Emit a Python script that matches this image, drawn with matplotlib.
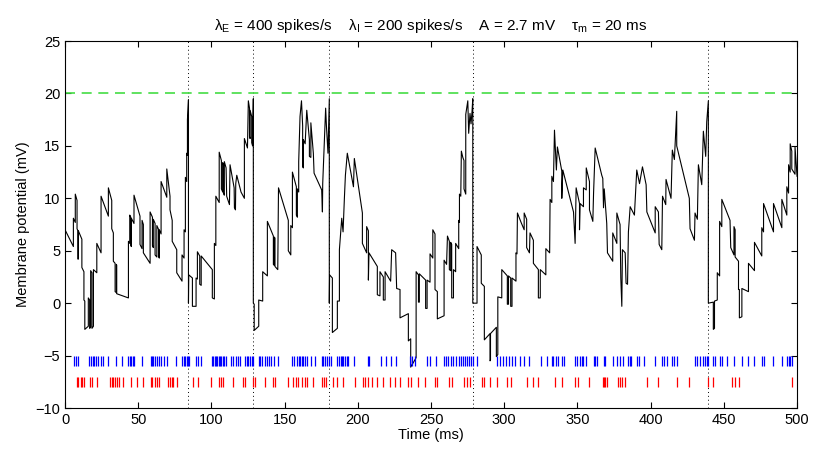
import matplotlib
matplotlib.use("Agg")
import matplotlib.pyplot as plt

plt.rcParams['font.family'] = ['Liberation Sans', 'DejaVu Sans']
plt.rcParams['mathtext.fontset'] = 'custom'
plt.rcParams['mathtext.rm'] = 'Liberation Sans'
plt.rcParams['mathtext.it'] = 'Liberation Sans'

# ---------------- DATA ----------------

# membrane potential trace vertices (ms, mV)
trace_t = [
    0.0, 5.7, 5.7, 7.0, 7.0, 8.2, 8.2, 8.8, 8.8, 9.1, 9.1, 11.5, 11.5, 12.9, 12.9, 13.5, 13.5,
    15.9, 15.9, 16.8, 16.8, 17.5, 17.5, 18.4, 18.4, 19.4, 19.4, 21.7, 21.7, 24.6, 24.6, 29.6,
    29.6, 31.9, 31.9, 33.0, 33.0, 34.2, 34.2, 35.1, 35.1, 35.3, 35.3, 43.3, 43.3, 44.2, 44.2,
    44.9, 44.9, 45.3, 45.3, 47.1, 47.1, 51.2, 51.2, 52.6, 52.6, 53.5, 53.5, 58.1, 58.1, 59.7,
    59.7, 60.3, 60.3, 61.5, 61.5, 62.7, 62.7, 64.0, 64.0, 64.4, 64.4, 65.6, 65.6, 69.5, 69.5,
    71.7, 71.7, 73.2, 73.2, 75.1, 76.3, 76.3, 79.9, 79.9, 81.3, 81.3, 82.2, 82.2, 83.1, 83.1,
    83.6, 83.6, 84.3, 84.3,
    84.5, 87.0, 87.0, 89.5, 89.5, 90.4, 90.4, 92.0, 92.0, 93.0, 93.0, 100.6, 100.6, 102.0,
    102.0, 103.0, 103.0, 105.3, 105.3, 106.8, 106.8, 107.7, 107.7, 108.2, 108.2, 108.8, 108.8,
    110.0, 110.4, 112.3, 112.7, 115.5, 115.7, 116.4, 116.6, 117.3, 120.2, 122.5, 122.5, 124.6,
    125.2, 126.0, 126.0, 126.4, 126.4, 127.5, 127.5, 128.1, 128.6, 128.6,
    129.2, 129.2, 132.3, 132.3, 135.0, 135.0, 138.2, 138.2, 142.3, 142.3, 143.0, 143.0, 143.4,
    143.4, 145.3, 145.8, 152.5, 152.5, 154.2, 154.2, 155.3, 155.3, 158.0, 158.0, 158.7, 158.7,
    159.6, 159.6, 160.5, 161.5, 162.3, 162.3, 162.8, 162.8, 164.0, 165.1, 166.9, 166.9, 167.9,
    167.9, 169.6, 170.1, 175.3, 175.8, 176.0, 178.0, 178.5, 179.6, 180.5, 180.5,
    180.7, 182.6, 182.6, 186.0, 186.0, 187.4, 187.4, 189.0, 189.9, 190.8, 191.5, 192.8, 197.0,
    197.6, 203.1, 203.1, 206.0, 206.0, 207.2, 207.2, 207.6, 213.3, 213.3, 215.1, 215.1, 217.4,
    217.4, 218.6, 218.6, 222.4, 223.1, 225.8, 226.5, 228.8, 228.8, 234.5, 234.5, 236.1, 236.1,
    239.8, 239.8, 241.4, 241.4, 242.0, 242.0, 246.3, 246.3, 247.3, 247.3, 249.3, 249.3, 251.2,
    251.2, 252.7, 252.7, 254.3, 254.3, 258.9, 258.9, 260.6, 261.2, 262.5, 262.5, 263.4, 263.4,
    264.1, 264.1, 265.3, 265.3, 266.8, 266.8, 268.9, 268.9, 269.4, 269.4, 270.3, 270.7, 271.7,
    272.5, 272.5, 273.2, 273.7, 273.7, 275.1, 275.7, 276.6, 277.3, 278.0, 278.5, 278.5,
    281.4, 281.4, 284.3, 284.3, 286.4, 286.4, 290.3, 290.3, 290.6, 290.6, 294.6, 294.6, 295.6,
    295.6, 298.3, 298.3, 302.1, 302.1, 302.9, 302.9, 304.4, 304.4, 305.3, 305.3, 308.0, 308.0,
    308.7, 309.0, 311.5, 313.6, 313.6, 315.3, 315.3, 317.2, 317.6, 319.9, 319.9, 323.3, 323.3,
    324.6, 324.6, 328.4, 328.4, 331.0, 331.3, 332.5, 332.5, 333.6, 334.3, 335.6, 336.3, 339.3,
    339.3, 340.0, 347.3, 348.4, 349.1, 351.4, 351.4, 351.8, 354.1, 354.1, 356.0, 356.0, 358.2,
    358.2, 360.5, 361.0, 362.1, 366.6, 367.3, 367.8, 368.3, 370.0, 370.5, 374.1, 374.1, 376.9,
    376.9, 379.1, 379.6, 380.3, 380.7, 382.6, 383.2, 384.2, 384.8, 386.0, 388.9, 390.5, 392.4,
    394.4, 396.9, 397.4, 403.1, 403.1, 405.3, 405.8, 407.6, 408.1, 410.3, 410.5, 413.9, 414.8,
    416.2, 416.9, 417.8, 417.8, 426.4, 426.9, 429.9, 430.3, 431.9, 432.6, 434.9, 436.0, 437.6,
    438.3, 439.4, 439.4,
    442.8, 442.8, 443.6, 443.6, 445.5, 445.5, 447.1, 447.1, 448.6, 448.6, 454.2, 454.7, 456.9,
    456.9, 457.7, 457.7, 460.0, 460.0, 460.6, 460.6, 462.3, 462.3, 466.8, 466.8, 470.9, 470.9,
    475.9, 475.9, 477.1, 477.1, 483.9, 483.9, 489.6, 489.6, 493.0, 493.0, 494.2, 494.2, 495.3,
    495.3, 496.4, 496.4, 498.6, 498.6, 500.0,
]
trace_v = [
    7.0, 5.4, 8.1, 7.7, 10.4, 9.8, 7.1, 6.9, 4.2, 4.2, 6.9, 6.1, 3.4, 3.0, 0.3, 0.2, -2.5,
    -2.2, 0.5, 0.3, -2.4, -2.3, 3.1, 2.9, -2.4, -2.2, 3.2, 2.9, 5.7, 4.8, 10.2, 8.3,
    11.0, 9.8, 7.1, 6.7, 4.0, 3.8, 1.1, 1.0, 3.7, 3.6, 0.9, 0.5, 5.9, 5.7, 8.4,
    8.2, 5.5, 5.4, 8.1, 7.6, 10.3, 8.3, 5.6, 5.2, 7.9, 7.5, 4.8, 3.8, 8.7, 8.2,
    5.5, 5.3, 8.0, 7.6, 4.6, 4.4, 7.4, 7.0, 4.4, 4.3, 7.0, 6.6, 11.6, 10.1, 12.8,
    10.2, 8.9, 7.9, 5.9, 5.4, 5.1, 2.9, 2.1, 4.6, 4.3, 7.0, 6.8, 12.0, 11.6, 14.3,
    14.1, 17.5, 19.4, 0.0,
    2.7, 2.4, -0.3, -0.3, 2.4, 2.3, 4.9, 4.5, 1.8, 1.7, 4.5, 3.2, 0.5, 0.4,
    5.7, 5.5, 10.2, 9.6, 14.4, 13.6, 10.9, 10.6, 13.4, 13.2, 10.5, 10.3, 13.5,
    12.9, 10.2, 9.4, 13.2, 11.0, 9.1, 8.9, 11.4, 12.2, 10.6, 10.0, 15.7, 14.8,
    19.3, 18.6, 15.9, 15.7, 18.4, 17.8, 15.3, 15.0, 19.5, 0.0,
    -0.1, -2.6, -2.2, 0.3, 0.2, 3.0, 2.6, 7.8, 6.4, 3.7, 3.6, 6.3, 6.2,
    3.5, 3.2, 11.0, 7.9, 5.0, 4.6, 7.4, 7.2, 12.5, 11.1, 8.4, 8.2, 10.9,
    10.6, 13.5, 17.8, 19.3, 16.9, 13.0, 12.9, 15.6, 15.2, 18.4, 15.6, 14.0, 13.9,
    17.2, 14.3, 12.4, 10.8, 8.7, 11.4, 18.6, 17.0, 14.3, 19.5, 0.0,
    2.7, 2.4, -2.8, -2.4, 0.2, 0.2, 5.1, 8.1, 6.8, 10.0, 12.2, 14.3, 11.1,
    13.8, 8.6, 5.7, 4.8, 7.3, 6.9, 2.2, 4.8, 3.5, 0.8, 0.7, 3.0, 2.5,
    0.3, 0.3, 3.0, 2.1, 5.1, 4.8, 1.4, 1.3, -1.4, -1.0, -3.6, -3.4, -6.1,
    -5.2, 3.0, 2.7, 0.1, 0.1, 2.8, 2.2, -0.5, -0.5, 2.2, 2.0, 4.7, 4.3,
    7.0, 6.6, 1.3, 1.1, -1.5, -1.2, 4.1, 3.7, 6.4, 5.9, 3.2, 3.1, 5.8,
    5.6, 0.5, 0.5, 3.2, 3.0, 5.7, 5.2, 7.9, 7.7, 10.4, 10.2, 14.5, 13.9,
    13.6, 10.9, 10.6, 10.4, 18.0, 19.3, 16.2, 18.1, 17.1, 18.3, 19.5, 0.0,
    0.0, 5.4, 4.6, 1.9, 1.6, -3.5, -2.9, -5.5, -5.4, -2.9, -2.3, -5.1, -4.9,
    0.6, 0.5, 3.2, 2.6, -0.1, -0.1, 2.6, 2.4, -0.3, -0.3, 2.4, 2.1, 4.8,
    4.7, 8.6, 7.7, 7.0, 8.6, 8.0, 5.3, 4.8, 6.7, 6.0, 3.8, 3.2, 0.5,
    0.5, 3.2, 2.7, 5.2, 4.8, 9.9, 9.6, 12.1, 11.6, 16.5, 12.7, 14.9, 12.6,
    10.0, 12.7, 8.7, 5.7, 11.0, 9.5, 7.0, 9.5, 9.2, 11.0, 10.8, 12.9, 11.6,
    8.9, 7.8, 10.5, 14.8, 12.2, 11.9, 9.1, 10.9, 7.6, 4.8, 4.0, 6.7, 5.7,
    8.6, 7.5, 2.4, -0.3, 5.1, 4.8, 1.9, 1.8, 6.8, 9.2, 8.4, 12.7, 11.4,
    13.0, 11.3, 8.7, 6.7, 9.2, 8.7, 5.6, 5.1, 10.2, 9.4, 11.8, 10.0, 14.6,
    13.7, 15.7, 18.3, 15.0, 10.0, 7.1, 6.0, 8.6, 8.0, 13.2, 11.3, 16.4, 14.0,
    17.3, 19.3, 0.0,
    0.1, -2.5, -2.4, 0.2, 0.3, 2.9, 2.6, 7.8, 7.3, 9.9, 7.9, 5.3, 4.6,
    7.3, 7.0, 4.4, 4.0, 1.3, 1.3, -1.4, -1.3, 1.4, 1.1, 3.8, 3.1, 5.8,
    4.5, 7.2, 6.8, 9.5, 6.8, 9.5, 7.2, 9.9, 8.4, 11.1, 10.5, 13.2, 12.5,
    15.2, 14.5, 12.8, 12.3, 14.9, 12.1,
]

# output spike times (ms)
spike_times = [84.3, 128.6, 180.5, 278.5, 439.4]

# excitatory input spike times (ms)
exc_times = [
    6.1, 7.3, 9.1, 16.4, 17.5, 19.4, 20.0, 21.2, 22.3, 24.4, 25.7, 29.6, 35.1, 38.9, 43.3,
    44.2, 45.3, 46.2, 47.1, 52.6, 58.5, 59.4, 60.3, 61.5, 62.8, 64.4, 65.6, 67.6, 69.7, 75.6,
    79.9, 81.3, 82.2, 83.1, 84.0, 84.9, 89.3, 90.8, 93.1, 100.2, 101.3, 102.2, 103.1, 104.0,
    105.0, 105.9, 106.8, 107.7, 108.8, 110.0, 113.2, 114.8, 116.6, 118.4, 119.8, 123.0, 124.1,
    125.3, 126.4, 127.5, 128.7, 132.3, 133.2, 134.6, 136.4, 137.8, 139.4, 141.0, 142.8, 145.8,
    155.3, 156.2, 158.7, 159.6, 160.5, 161.7, 162.8, 164.0, 165.3, 168.0, 170.8, 175.3, 176.4,
    177.6, 178.7, 180.3, 181.4, 186.0, 187.1, 188.3, 189.2, 190.1, 191.3, 192.4, 193.1, 197.6,
    206.7, 207.7, 215.9, 219.3, 222.5, 226.1, 235.7, 237.3, 239.1, 247.3, 249.3, 253.4, 258.9,
    260.0, 261.8, 263.4, 265.3, 266.8, 268.9, 270.3, 271.7, 273.2, 274.4, 275.7, 277.1, 278.5,
    281.2, 294.9, 297.2, 299.4, 301.3, 302.9, 305.1, 307.4, 310.8, 313.6, 317.2, 325.0, 329.1,
    332.4, 333.6, 335.2, 337.0, 339.3, 340.5, 348.4, 349.6, 351.4, 353.0, 354.1, 356.0, 361.0,
    362.1, 363.3, 367.8, 368.5, 374.6, 376.9, 379.2, 381.0, 384.2, 385.6, 386.5, 390.6, 391.7,
    395.2, 403.1, 407.9, 409.3, 411.1, 414.3, 415.6, 417.9, 430.4, 431.6, 433.8, 435.6, 437.2,
    438.4, 439.5, 442.9, 444.1, 447.5, 448.6, 452.1, 456.6, 462.3, 466.8, 470.9, 475.9, 477.1,
    483.9, 489.6, 493.0, 494.2, 495.3, 496.4,
]

# inhibitory input spike times (ms)
inh_times = [
    8.0, 9.1, 10.7, 11.8, 13.0, 17.1, 18.4, 21.7, 30.7, 31.9, 33.0, 34.2, 35.3, 36.7, 39.9,
    44.9, 49.0, 53.5, 58.5, 59.7, 61.5, 62.6, 64.0, 70.6, 71.7, 72.9, 74.0, 76.3, 87.7, 91.1,
    99.7, 105.4, 106.8, 108.2, 115.0, 121.8, 123.0, 128.7, 129.8, 136.6, 142.3, 143.4, 152.5,
    155.9, 157.6, 159.4, 161.7, 164.0, 165.6, 169.2, 175.3, 176.9, 178.3, 183.3, 186.0, 189.7,
    198.1, 203.4, 205.0, 207.2, 209.5, 213.4, 217.4, 222.0, 225.4, 228.8, 234.5, 236.1, 241.4,
    245.9, 252.7, 254.3, 262.5, 264.1, 272.5, 274.3, 276.6, 284.6, 286.2, 290.3, 294.8, 302.1,
    304.4, 315.3, 319.9, 323.3, 334.7, 339.3, 348.4, 350.7, 358.2, 367.3, 368.2, 369.1, 370.0,
    378.0, 379.1, 380.3, 382.5, 397.3, 405.3, 417.8, 426.5, 439.4, 442.9, 455.4, 457.7, 460.0,
    496.4,
]

threshold = 20

# ---------------- PLOT ----------------

fig = plt.figure(figsize=(8.14, 4.51), dpi=100)
ax = fig.add_axes([0.0799, 0.0953, 0.8993, 0.8137])

ax.vlines(spike_times, -10, 25, colors='black', linestyles=(0, (1, 3)), linewidth=0.7)
ax.axhline(threshold, color='#44dd44', linestyle=(0, (6, 4)), linewidth=1.2)
ax.plot(trace_t, trace_v, color='black', linewidth=0.8)

ax.vlines(exc_times, -6.0, -5.0, colors='blue', linewidth=0.9)
ax.vlines(inh_times, -8.0, -7.0, colors='red', linewidth=0.9)

ax.set_xlim(0, 500)
ax.set_ylim(-10, 25)
ax.set_xticks(range(0, 501, 50))
ax.set_yticks(range(-10, 26, 5))
ax.tick_params(direction='in', top=True, right=True, length=4, labelsize=10.5)

ax.set_xlabel('Time (ms)', fontsize=10.5, labelpad=1)
ax.set_ylabel('Membrane potential (mV)', fontsize=10.5, labelpad=4)
ax.set_title(r'$\mathrm{\lambda_E}$ = 400 spikes/s    $\mathrm{\lambda_I}$ = 200 spikes/s    '
             r'A = 2.7 mV    $\mathrm{\tau_m}$ = 20 ms', fontsize=11, pad=8)

fig.savefig('out.png', dpi=100)
